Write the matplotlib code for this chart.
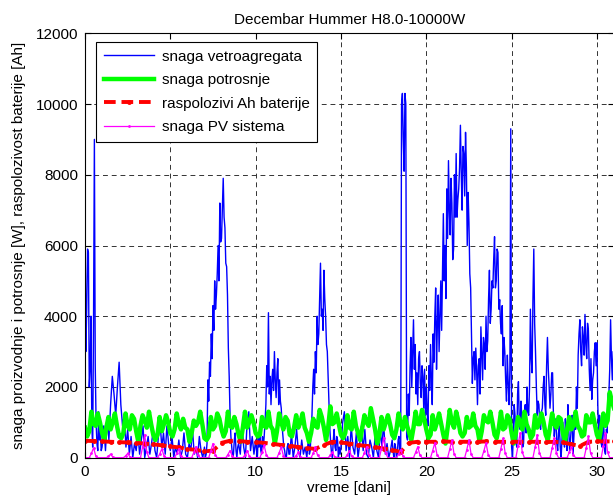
import numpy as np
import matplotlib
matplotlib.use("Agg")
import matplotlib.pyplot as plt

plt.rcParams["font.family"] = ["Liberation Sans", "DejaVu Sans"]

# snaga vetroagregata [W], jedan red = jedan dan (10 ili 20 tacaka dnevno)
wind_rows = [
    [6900, 3000, 4200, 5900, 5800, 2000, 2500, 4000, 900, 300,
     3800, 9000, 2600, 1000, 400, 200, 1300, 500, 800, 200],
    [300, 900, 200, 1100, 500, 1500, 2300, 1800, 1200, 2000],
    [2700, 1500, 900, 1200, 300, 800, 100, 600, 0, 400],
    [200, 700, 100, 500, 900, 0, 300, 600, 100, 400],
    [800, 200, 0, 600, 1000, 300, 700, 100, 900, 400],
    [200, 600, 0, 300, 100, 500, 0, 200, 700, 100],
    [0, 400, 200, 800, 100, 300, 0, 600, 200, 0],
    [300, 0, 100, 400, 2200, 1600, 2700, 2300, 3500, 2800,
     4300, 3600, 5000, 4200, 4600, 5200, 6000, 5000, 7200, 6100],
    [6200, 7100, 7900, 6800, 6500, 5500, 5400, 4600, 3100, 2300,
     1200, 600, 300, 0, 100, 500, 700, 200, 0, 300],
    [400, 100, 900, 300, 0, 1000, 1300, 200, 600, 100],
    [500, 200, 0, 600, 300, 800, 200, 100, 600, 300,
     600, 1000, 1500, 2600, 2000, 4100, 1800, 2300, 1500, 2200],
    [2500, 1900, 3000, 2200, 1700, 2400, 2800, 1500, 2200, 1600,
     1400, 900, 600, 300, 200, 0, 0, 300, 400, 100],
    [100, 700, 0, 300, 800, 200, 0, 500, 100, 300],
    [0, 300, 600, 100, 200, 800, 1200, 2000, 2500, 1800,
     3000, 2400, 4000, 3200, 3500, 4500, 5500, 4000, 4200, 3600],
    [5300, 4500, 4000, 3200, 3000, 2200, 1500, 800, 400, 100,
     0, 500, 800, 300, 200, 600, 500, 0, 300, 100],
    [300, 1000, 1300, 200, 600, 0, 900, 300, 100, 700],
    [0, 400, 900, 200, 800, 100, 0, 500, 300, 0],
    [600, 200, 0, 800, 300, 1000, 100, 400, 0, 200],
    [500, 200, 0, 400, 300, 0, 100, 500, 600, 100,
     200, 10000, 10300, 9000, 8100, 10300, 10000, 600, 500, 1800],
    [1200, 2600, 3400, 2000, 2900, 3900, 2500, 3200, 1800, 2400,
     1500, 2800, 3000, 2100, 1700, 2600, 2300, 1400, 2500, 1200],
    [2000, 1300, 900, 2600, 1900, 3200, 2200, 1500, 3500, 2700,
     4000, 4800, 2500, 3800, 4600, 3000, 4000, 5000, 3600, 5200],
    [6900, 5000, 6000, 4500, 7600, 6200, 8400, 7000, 6300, 7900,
     7200, 5600, 5900, 8000, 6800, 8600, 6800, 7300, 7600, 8200],
    [9400, 8000, 7000, 8800, 8600, 7400, 9200, 8200, 6000, 7500,
     6650, 5200, 4800, 3500, 2100, 2800, 3000, 2200, 3100, 2500],
    [1500, 2600, 2800, 1800, 3700, 2900, 2200, 3400, 3200, 2500,
     4000, 3000, 3300, 4500, 5300, 3800, 4200, 5000, 4800, 5600],
    [6250, 4800, 5000, 5900, 5800, 4200, 4470, 3800, 3500, 4300,
     2600, 3400, 3000, 2200, 1600, 2900, 2100, 1500, 2500, 9300],
    [300, 0, 600, 1500, 1200, 500, 300, 1800, 2150, 1000,
     800, 1600, 1100, 300, 400, 1200, 1500, 700, 2000, 1300],
    [1200, 2000, 4200, 2800, 2400, 4500, 5900, 3800, 3000, 2000,
     1200, 1600, 1500, 900, 800, 1300, 1400, 2000, 2300, 1500],
    [1200, 2600, 3400, 2500, 2000, 1400, 1800, 2400, 2400, 1200,
     600, 900, 1100, 400, 200, 700, 900, 300, 0, 500],
    [1000, 600, 300, 1100, 700, 200, 1500, 800, 200, 500,
     900, 1200, 100, 600, 1200, 800, 2000, 1400, 2900, 3500],
    [3900, 3000, 2600, 3700, 3400, 2900, 4050, 3200, 2800, 3800,
     3600, 2500, 1900, 2800, 1650, 2200, 2400, 3000, 3250, 2600],
    [3250, 1500, 600, 1200, 1000, 400, 300, 900, 900, 200,
     100, 800, 700, 1800, 1800, 2500, 3900, 2800, 2200, 3000],
    [2060],
]

# snaga potrosnje [W], korak 3 h
load_rows = [
    [850, 600, 750, 1300, 950, 900, 1250, 1000],
    [700, 500, 850, 1150, 800, 1000, 1250, 900],
    [600, 550, 700, 1250, 900, 800, 1200, 1100],
    [750, 450, 900, 1200, 1050, 850, 1300, 950],
    [650, 500, 650, 1150, 750, 950, 1200, 1000],
    [700, 600, 800, 1250, 950, 800, 1100, 850],
    [800, 450, 700, 1050, 900, 1000, 1300, 950],
    [550, 500, 600, 1150, 800, 900, 1250, 1100],
    [800, 600, 750, 1300, 900, 850, 1150, 950],
    [650, 450, 850, 1300, 850, 1000, 1200, 1000],
    [700, 600, 650, 1150, 900, 850, 1300, 900],
    [800, 400, 750, 1250, 1000, 800, 1150, 1050],
    [650, 600, 850, 1200, 850, 1000, 1250, 850],
    [700, 450, 700, 1100, 900, 850, 1350, 1150],
    [850, 500, 850, 1450, 950, 1000, 1250, 950],
    [650, 550, 700, 1200, 850, 800, 1300, 900],
    [700, 500, 850, 1200, 1000, 900, 1400, 1100],
    [800, 400, 650, 1150, 800, 1000, 1200, 950],
    [650, 550, 800, 1250, 950, 800, 1150, 900],
    [700, 500, 850, 1300, 950, 950, 1350, 1100],
    [800, 550, 650, 1200, 800, 1000, 1250, 950],
    [650, 400, 850, 1350, 1000, 850, 1300, 1050],
    [700, 600, 700, 1150, 850, 900, 1250, 900],
    [800, 450, 750, 1200, 1050, 1000, 1300, 1000],
    [650, 550, 850, 1300, 800, 850, 1200, 1100],
    [700, 400, 700, 1150, 1000, 800, 1300, 950],
    [800, 550, 650, 1200, 850, 1000, 1250, 1000],
    [650, 500, 850, 1250, 950, 850, 1150, 1100],
    [700, 450, 800, 1150, 800, 900, 1300, 900],
    [800, 600, 650, 1200, 1000, 1000, 1250, 950],
    [650, 500, 850, 1250, 900, 1050, 1850, 1600],
    [1400],
]

# raspolozivi Ah baterije, korak 0.5 dan
battery = [
    480, 470, 460, 450, 440, 430, 420, 400, 380, 350,
    320, 290, 250, 220, 180, 200, 420, 480, 470, 450,
    440, 420, 390, 360, 340, 300, 270, 250, 360, 450,
    430, 400, 360, 330, 300, 260, 220, 160, 420, 450,
    450, 450, 460, 450, 450, 450, 450, 460, 450, 450,
    450, 450, 450, 450, 440, 450, 430, 380, 330, 450,
    460, 460, 460,
]

# snaga PV sistema [W], korak 3 h
pv_rows = [
    [0, 0, 0, 120, 280, 60, 0, 0],
    [0, 0, 0, 40, 100, 20, 0, 0],
    [0, 0, 0, 50, 120, 30, 0, 0],
    [0, 0, 0, 300, 650, 150, 0, 0],
    [0, 0, 0, 100, 250, 60, 0, 0],
    [0, 0, 0, 120, 250, 50, 0, 0],
    [0, 0, 0, 150, 300, 70, 0, 0],
    [0, 0, 0, 200, 400, 90, 0, 0],
    [0, 0, 0, 90, 200, 50, 0, 0],
    [0, 0, 0, 80, 200, 40, 0, 0],
    [0, 0, 0, 160, 350, 80, 0, 0],
    [0, 0, 0, 140, 300, 60, 0, 0],
    [0, 0, 0, 60, 150, 30, 0, 0],
    [0, 0, 0, 130, 300, 70, 0, 0],
    [0, 0, 0, 70, 150, 30, 0, 0],
    [0, 0, 0, 90, 200, 40, 0, 0],
    [0, 0, 0, 140, 310, 70, 0, 0],
    [0, 0, 0, 260, 570, 120, 0, 0],
    [0, 0, 0, 100, 230, 50, 0, 0],
    [0, 0, 0, 150, 310, 70, 0, 0],
    [0, 0, 0, 200, 420, 90, 0, 0],
    [0, 0, 0, 240, 500, 110, 0, 0],
    [0, 0, 0, 230, 500, 100, 0, 0],
    [0, 0, 0, 190, 420, 90, 0, 0],
    [0, 0, 0, 260, 550, 120, 0, 0],
    [0, 0, 0, 330, 700, 150, 0, 0],
    [0, 0, 0, 300, 650, 140, 0, 0],
    [0, 0, 0, 270, 570, 120, 0, 0],
    [0, 0, 0, 150, 310, 70, 0, 0],
    [0, 0, 0, 280, 600, 130, 0, 0],
    [0, 0, 0, 330, 700, 150, 0, 0],
    [0],
]


def flatten(rows):
    """dnevne redove u vreme [dani] i vrednosti"""
    t, v = [], []
    for day, row in enumerate(rows):
        t.extend(day + np.arange(len(row)) / len(row))
        v.extend(row)
    return np.array(t), np.array(v)


t_wind, wind = flatten(wind_rows)
t_load, load = flatten(load_rows)
t_pv, pv = flatten(pv_rows)
t_bat = np.arange(len(battery)) * 0.5

FS = 11

fig = plt.figure(figsize=(6.13, 4.99), dpi=100)
ax = fig.add_axes([85 / 613, 41.3 / 499, 529 / 613, 424.4 / 499])

ax.plot(t_wind, wind, color="#0000ff", linewidth=1.0, label="snaga vetroagregata")
ax.plot(t_load, load, color="#00ff00", linewidth=3.2, label="snaga potrosnje")
ax.plot(t_bat, battery, color="#ff0000", linewidth=2.8, dashes=(3, 1.5),
        marker=".", markersize=5, label="raspolozivi Ah baterije")
ax.plot(t_pv, pv, color="#ff00ff", linewidth=0.9, marker=".", markersize=2,
        label="snaga PV sistema")

ax.set_xlim(0, 31)
ax.set_ylim(0, 12000)
ax.set_xticks(range(0, 31, 5))
ax.set_yticks(range(0, 12001, 2000))
ax.tick_params(direction="in", length=4, labelsize=FS, pad=5, top=True, right=True)
ax.grid(True, color="0.2", linestyle=(0, (5, 4)), linewidth=0.7)
ax.spines["right"].set_visible(False)

ax.set_title("Decembar Hummer H8.0-10000W", fontsize=FS, pad=7)
ax.set_xlabel("vreme [dani]", fontsize=FS, labelpad=2)
ax.set_ylabel("snaga proizvodnje i potrosnje [W], raspolozivost baterije [Ah]",
              fontsize=FS, labelpad=7)

leg = ax.legend(loc="upper left", bbox_to_anchor=(96 / 613, 1 - 42 / 499),
                bbox_transform=fig.transFigure, fontsize=FS, handlelength=3.3,
                handletextpad=0.5, labelspacing=0.62, borderaxespad=0,
                fancybox=False, framealpha=1, edgecolor="black", borderpad=0.5)
leg.get_frame().set_linewidth(0.8)

fig.savefig("out.png", dpi=100)
